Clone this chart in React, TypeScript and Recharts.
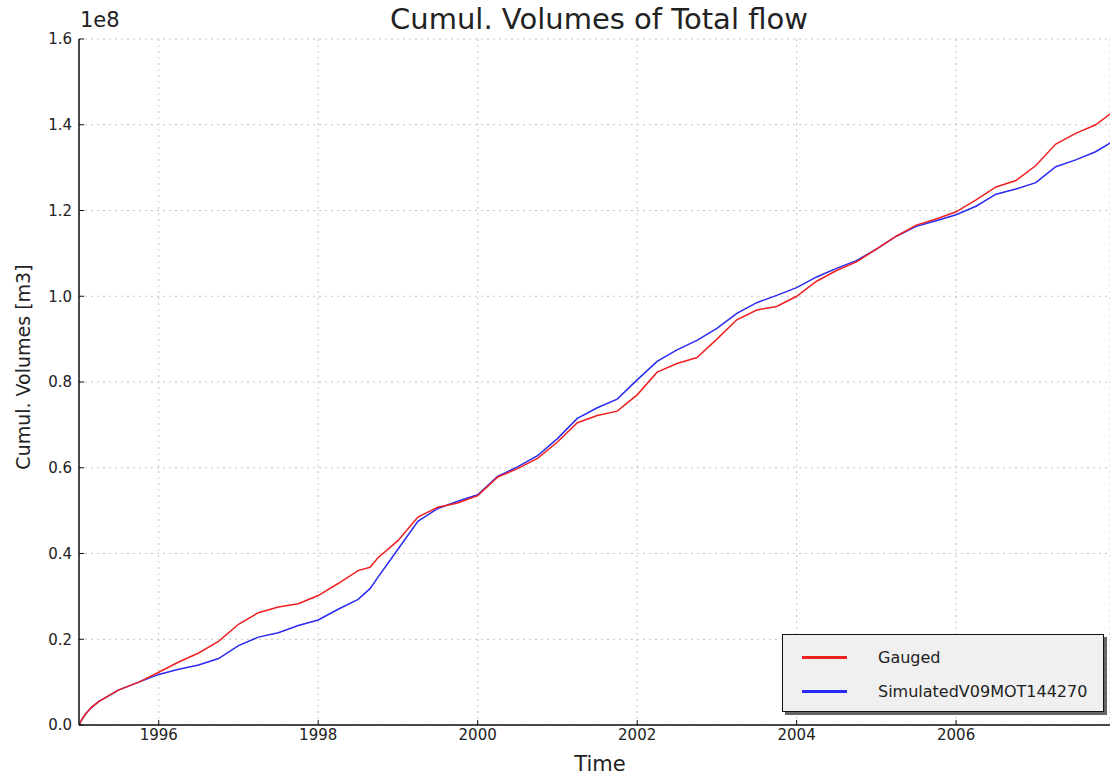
import React from 'react';
import { LineChart, Line, XAxis, YAxis, CartesianGrid, Legend } from 'recharts';

// time in decimal years, volumes in units of 1e8 m3
const years = [
  1995.0, 1995.04, 1995.08, 1995.15, 1995.25, 1995.5, 1995.75, 1996.0, 1996.25, 1996.5, 1996.75, 1997.0,
  1997.25, 1997.5, 1997.75, 1998.0, 1998.25, 1998.5, 1998.65, 1998.75, 1999.0, 1999.25,
  1999.5, 1999.75, 2000.0, 2000.25, 2000.5, 2000.75, 2001.0, 2001.25, 2001.5, 2001.75,
  2002.0, 2002.25, 2002.5, 2002.75, 2003.0, 2003.25, 2003.5, 2003.75, 2004.0, 2004.25,
  2004.5, 2004.75, 2005.0, 2005.25, 2005.5, 2005.75, 2006.0, 2006.25, 2006.5, 2006.75,
  2007.0, 2007.25, 2007.5, 2007.75, 2007.93,
];

const gauged = [
  0, 0.014, 0.025, 0.04, 0.055, 0.082, 0.1, 0.123, 0.147, 0.168, 0.195, 0.235,
  0.262, 0.275, 0.283, 0.302, 0.33, 0.36, 0.368, 0.39, 0.43, 0.485,
  0.508, 0.518, 0.535, 0.578, 0.598, 0.622, 0.66, 0.705, 0.722, 0.732,
  0.77, 0.823, 0.843, 0.857, 0.9, 0.945, 0.968, 0.976, 1.0, 1.035,
  1.06, 1.08, 1.11, 1.14, 1.166, 1.18, 1.197, 1.225, 1.255, 1.27,
  1.305, 1.355, 1.38, 1.4, 1.425,
];

const simulated = [
  0, 0.014, 0.025, 0.04, 0.055, 0.082, 0.1, 0.118, 0.13, 0.14, 0.155, 0.185,
  0.205, 0.215, 0.232, 0.245, 0.27, 0.293, 0.318, 0.345, 0.41, 0.475,
  0.505, 0.522, 0.537, 0.58, 0.602, 0.628, 0.668, 0.715, 0.74, 0.76,
  0.805, 0.848, 0.875, 0.897, 0.925, 0.96, 0.985, 1.002, 1.02, 1.045,
  1.065, 1.083, 1.11, 1.14, 1.163, 1.176, 1.19, 1.21, 1.238, 1.25,
  1.265, 1.302, 1.318, 1.337, 1.357,
];

const xTicks = [1996, 1998, 2000, 2002, 2004, 2006];
const yTicks = [0, 0.2, 0.4, 0.6, 0.8, 1.0, 1.2, 1.4, 1.6];

const seriesNames = ['Gauged', 'SimulatedV09MOT144270'];
const seriesColors = ['#f02020', '#2a2af0'];

const data = years.map((t, i) => ({ t, gauged: gauged[i], simulated: simulated[i] }));

const FONT = '"DejaVu Sans", sans-serif';

const LegendBox = () => (
  <div
    style={{
      width: 322,
      height: 78,
      boxSizing: 'border-box',
      border: '1.5px solid #111',
      background: '#f0f0f0',
      boxShadow: '3px 3px 0 #666',
      fontFamily: FONT,
      fontSize: 16,
      color: '#222',
      position: 'relative',
    }}
  >
    {seriesNames.map((name, i) => (
      <div key={name} style={{ position: 'absolute', left: 19, top: 12 + i * 34, display: 'flex', alignItems: 'center', height: 20 }}>
        <div style={{ width: 45, height: 3, background: seriesColors[i] }} />
        <span style={{ marginLeft: 31, whiteSpace: 'nowrap' }}>{name}</span>
      </div>
    ))}
  </div>
);

export default function App() {
  const tickStyle = { fontFamily: FONT, fontSize: 15, fill: '#222' };
  return (
    <div style={{ position: 'absolute', left: 0, top: 0, width: 1110, height: 780, background: '#fff', overflow: 'hidden' }}>
      <div style={{ position: 'absolute', left: 599, top: 2, transform: 'translateX(-50%)', fontFamily: FONT, fontSize: 29, color: '#222', whiteSpace: 'nowrap' }}>
        Cumul. Volumes of Total flow
      </div>
      <div style={{ position: 'absolute', left: 80, top: 8, fontFamily: FONT, fontSize: 21, color: '#222' }}>1e8</div>
      <div
        style={{
          position: 'absolute',
          left: 23,
          top: 367,
          transform: 'translate(-50%, -50%) rotate(-90deg)',
          fontFamily: FONT,
          fontSize: 19,
          color: '#222',
          whiteSpace: 'nowrap',
        }}
      >
        Cumul. Volumes [m3]
      </div>
      <div style={{ position: 'absolute', left: 600, top: 764, transform: 'translate(-50%, -50%)', fontFamily: FONT, fontSize: 21, color: '#222' }}>
        Time
      </div>
      <LineChart width={1110} height={780} data={data} margin={{ top: 39, right: 0, bottom: 0, left: 0 }}>
        <CartesianGrid stroke="#c4c4c4" strokeDasharray="2 4" />
        <XAxis
          dataKey="t"
          type="number"
          domain={[1995, 2007.93]}
          allowDataOverflow
          ticks={xTicks}
          height={55}
          tickSize={-5}
          tickMargin={9}
          tick={tickStyle}
          axisLine={{ stroke: '#111', strokeWidth: 1.5 }}
          tickLine={{ stroke: '#111' }}
        />
        <XAxis
          xAxisId="top"
          orientation="top"
          dataKey="t"
          type="number"
          domain={[1995, 2007.93]}
          allowDataOverflow
          ticks={xTicks}
          height={0}
          tickSize={-5}
          tick={{ fill: 'none' }}
          axisLine={{ stroke: '#111', strokeWidth: 1.5 }}
          tickLine={{ stroke: '#111' }}
        />
        <YAxis
          type="number"
          domain={[0, 1.6]}
          ticks={yTicks}
          width={79}
          tickSize={-5}
          tickMargin={12}
          tick={tickStyle}
          tickFormatter={(v: number) => v.toFixed(1)}
          axisLine={{ stroke: '#111', strokeWidth: 1.5 }}
          tickLine={{ stroke: '#111' }}
        />
        <Line type="linear" dataKey="simulated" stroke={seriesColors[1]} strokeWidth={1.5} dot={false} isAnimationActive={false} />
        <Line type="linear" dataKey="gauged" stroke={seriesColors[0]} strokeWidth={1.5} dot={false} isAnimationActive={false} />
        <Legend
          layout="horizontal"
          verticalAlign="middle"
          align="center"
          content={() => <LegendBox />}
          wrapperStyle={{ left: 782, top: 634, width: 322, height: 78 }}
        />
      </LineChart>
    </div>
  );
}
